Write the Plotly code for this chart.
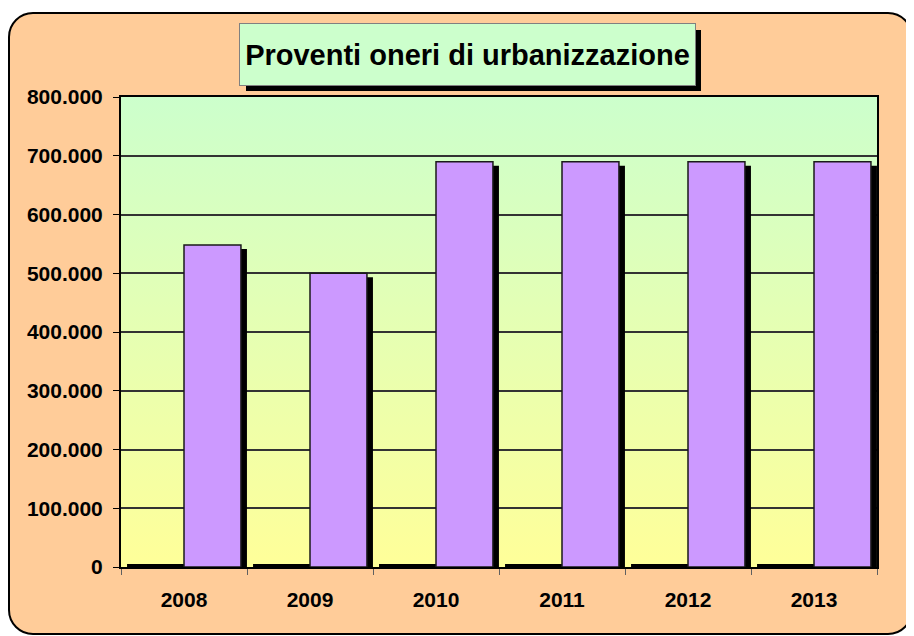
import base64
import plotly.graph_objects as go

# ---- data ----
years = ["2008", "2009", "2010", "2011", "2012", "2013"]
series_zero = [0, 0, 0, 0, 0, 0]
proventi = [548000, 500000, 690000, 690000, 690000, 690000]
y_ticks = [0, 100000, 200000, 300000, 400000, 500000, 600000, 700000, 800000]
title_text = "Proventi oneri di urbanizzazione"

# ---- geometry / style (page body has an 8px margin) ----
OFF = 8
W, H = 914, 636
L, R, T, B = 121 - OFF, 877 - OFF, 97 - OFF, 567 - OFF   # plot area in px
PW, PH = R - L, B - T
YMAX = 800000
units_per_px = YMAX / PH
cat_px = PW / len(years)
bar_w = 0.452
shadow_dx = 6 / cat_px
shadow_dy = 4 * units_per_px
edge = 3 * units_per_px

def px2x(px):
    return (px - L) / PW

def py2y(py):
    return (B - py) / PH

FONT = "Liberation Sans, Arial, sans-serif"

svg = f"""<svg xmlns='http://www.w3.org/2000/svg' width='{W}' height='{H}' viewBox='0 0 {W} {H}' preserveAspectRatio='none'>
<defs><linearGradient id='g' x1='0' y1='0' x2='0' y2='1'>
<stop offset='0' stop-color='#CCFFCC'/><stop offset='1' stop-color='#FFFF99'/></linearGradient></defs>
<rect x='{9 - OFF}' y='{13 - OFF}' width='903' height='621' rx='24' ry='24' fill='#FFCC99' stroke='#000' stroke-width='2'/>
<rect x='{L}' y='{T}' width='{PW}' height='{PH}' fill='url(#g)'/>
</svg>"""
bg_uri = "data:image/svg+xml;base64," + base64.b64encode(svg.encode()).decode()

fig = go.Figure()

# shadow of the purple bars
fig.add_trace(go.Bar(
    x=years, y=proventi, base=[-shadow_dy] * len(years),
    width=bar_w, offset=shadow_dx,
    marker=dict(color="#000000", line=dict(width=0)),
    hoverinfo="skip", showlegend=False,
))
# zero series (drawn as its edge line)
fig.add_trace(go.Bar(
    x=years, y=[v + edge for v in series_zero],
    width=bar_w, offset=-bar_w,
    marker=dict(color="#000000", line=dict(width=0)),
    hoverinfo="skip", showlegend=False,
))
# main bars
fig.add_trace(go.Bar(
    x=years, y=proventi,
    width=bar_w, offset=0,
    marker=dict(color="#CC99FF", line=dict(color="#1a1a1a", width=1.5)),
    showlegend=False,
))

TX, TY = 467.5 - OFF, 54.5 - OFF
# title box shadow + box
fig.add_annotation(
    xref="paper", yref="paper",
    x=px2x(TX + 6), y=py2y(TY + 6),
    xanchor="center", yanchor="middle",
    text=" ", showarrow=False,
    width=455, height=61, bgcolor="#000000", borderwidth=0, borderpad=0,
)
fig.add_annotation(
    xref="paper", yref="paper",
    x=px2x(TX), y=py2y(TY),
    xanchor="center", yanchor="middle",
    text=title_text, showarrow=False,
    font=dict(family=FONT, size=29, color="#000000", weight="bold"),
    width=455, height=61, bgcolor="#CCFFCC",
    bordercolor="#808080", borderwidth=1, borderpad=0,
)

fig.update_layout(
    width=W, height=H,
    margin=dict(l=L, r=W - R, t=T, b=H - B, pad=0),
    paper_bgcolor="#FFFFFF",
    plot_bgcolor="rgba(0,0,0,0)",
    barmode="overlay",
    separators=",.",
    showlegend=False,
    images=[dict(
        source=bg_uri, xref="paper", yref="paper",
        x=px2x(0), y=py2y(0), sizex=W / PW, sizey=H / PH,
        xanchor="left", yanchor="top", sizing="stretch", layer="below",
    )],
    xaxis=dict(
        type="category", range=[-0.5, len(years) - 0.5],
        showline=True, linecolor="#000000", linewidth=2, mirror=True,
        ticks="outside", tickson="boundaries", ticklen=6, tickcolor="#606060", tickwidth=1,
        tickfont=dict(family=FONT, size=21, color="#000000", weight="bold"),
        ticklabelstandoff=13,
        showgrid=False, zeroline=False,
    ),
    yaxis=dict(
        range=[0, YMAX], tickvals=y_ticks, tickformat=",d",
        showline=True, linecolor="#000000", linewidth=2, mirror=True,
        ticks="outside", ticklen=6, tickcolor="#000000", tickwidth=1,
        tickfont=dict(family=FONT, size=21, color="#000000", weight="bold"),
        ticklabelstandoff=6,
        showgrid=True, gridcolor="#333333", gridwidth=2,
        zeroline=False,
    ),
)

fig.write_html("out.html")
